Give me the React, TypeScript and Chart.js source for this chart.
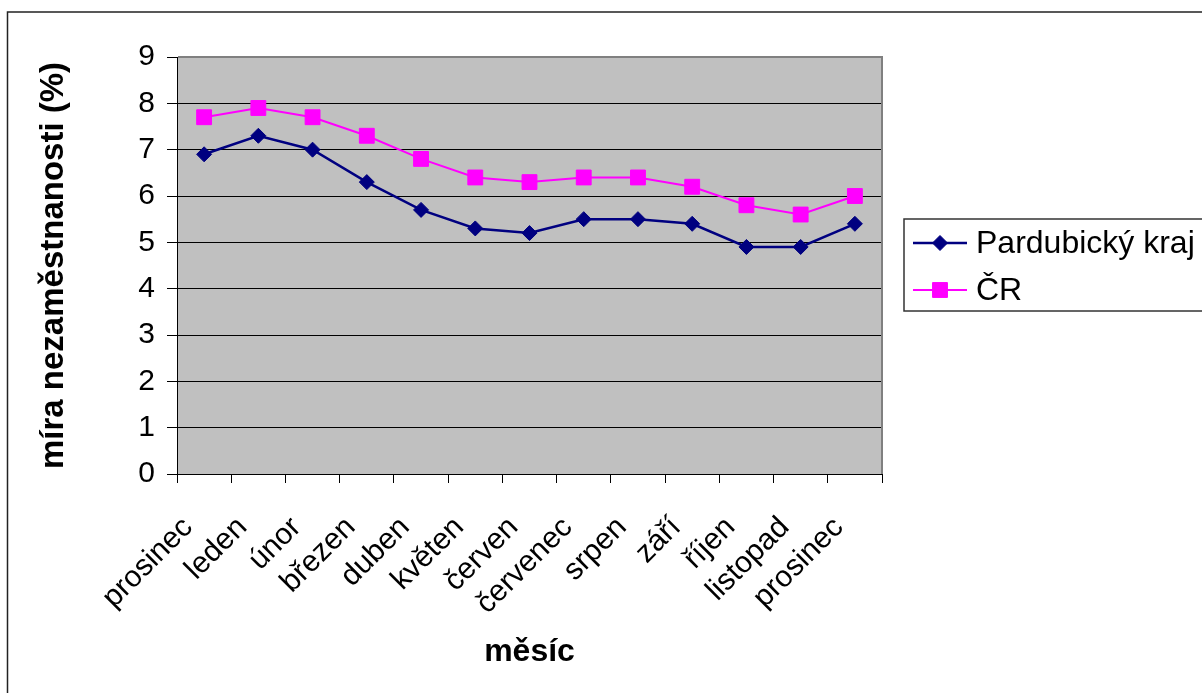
import React, { useEffect, useRef } from 'react';
import { Chart, registerables } from 'chart.js';

Chart.register(...registerables);

const months = ['prosinec', 'leden', 'únor', 'březen', 'duben', 'květen', 'červen', 'červenec', 'srpen', 'září', 'říjen', 'listopad', 'prosinec'];
const pardubickyKraj = [6.9, 7.3, 7.0, 6.3, 5.7, 5.3, 5.2, 5.5, 5.5, 5.4, 4.9, 4.9, 5.4];
const ceskaRepublika = [7.7, 7.9, 7.7, 7.3, 6.8, 6.4, 6.3, 6.4, 6.4, 6.2, 5.8, 5.6, 6.0];
const seriesNames = ['Pardubický kraj', 'ČR'];
const yTitle = 'míra nezaměstnanosti (%)';
const xTitle = 'měsíc';

const FONT = '"Liberation Sans", Arial, sans-serif';

function drawMarker(ctx: CanvasRenderingContext2D, style: string, x: number, y: number, r: number, color: string) {
  ctx.save();
  ctx.fillStyle = color;
  ctx.strokeStyle = color;
  ctx.lineWidth = 1;
  ctx.beginPath();
  if (style === 'rectRot') {
    ctx.moveTo(x, y - r);
    ctx.lineTo(x + r, y);
    ctx.lineTo(x, y + r);
    ctx.lineTo(x - r, y);
  } else {
    const s = r * Math.SQRT1_2;
    ctx.rect(x - s, y - s, 2 * s, 2 * s);
  }
  ctx.closePath();
  ctx.fill();
  ctx.stroke();
  ctx.restore();
}

const framePlugin = {
  id: 'frame',
  beforeDraw(chart: any) {
    const { ctx, chartArea } = chart;
    ctx.save();
    ctx.fillStyle = '#ffffff';
    ctx.fillRect(0, 0, chart.width, chart.height);
    ctx.strokeStyle = '#222222';
    ctx.lineWidth = 1.5;
    ctx.strokeRect(7.5, 12, 1300, 800);
    ctx.fillStyle = '#C0C0C0';
    ctx.fillRect(chartArea.left, chartArea.top, chartArea.right - chartArea.left, chartArea.bottom - chartArea.top);
    ctx.restore();
  },
  afterDraw(chart: any) {
    const { ctx, chartArea } = chart;
    ctx.save();
    ctx.strokeStyle = '#808080';
    ctx.lineWidth = 2;
    ctx.beginPath();
    ctx.moveTo(chartArea.left + 1, chartArea.top);
    ctx.lineTo(chartArea.right, chartArea.top);
    ctx.lineTo(chartArea.right, chartArea.bottom);
    ctx.stroke();

    // legend
    const boxX = 904;
    const boxY = 219;
    const boxH = 92;
    ctx.fillStyle = '#ffffff';
    ctx.fillRect(boxX, boxY, 400, boxH);
    ctx.strokeStyle = '#333333';
    ctx.lineWidth = 1.5;
    ctx.strokeRect(boxX, boxY, 400, boxH);
    chart.data.datasets.forEach((ds: any, i: number) => {
      const y = 243 + i * 47;
      ctx.strokeStyle = ds.borderColor;
      ctx.lineWidth = ds.borderWidth;
      ctx.beginPath();
      ctx.moveTo(913, y);
      ctx.lineTo(967, y);
      ctx.stroke();
      drawMarker(ctx, ds.pointStyle, 940, y, ds.pointRadius, ds.pointBackgroundColor);
      ctx.fillStyle = '#000000';
      ctx.font = `32px ${FONT}`;
      ctx.textAlign = 'left';
      ctx.textBaseline = 'middle';
      ctx.fillText(ds.label, 976, y + 1);
    });
    ctx.restore();
  },
};

export default function App() {
  const ref = useRef<HTMLCanvasElement | null>(null);

  useEffect(() => {
    if (!ref.current) return;
    Chart.defaults.font.family = FONT;
    const chart = new Chart(ref.current, {
      type: 'line',
      data: {
        labels: months,
        datasets: [
          {
            label: seriesNames[0],
            data: pardubickyKraj,
            borderColor: '#000080',
            backgroundColor: '#000080',
            pointBackgroundColor: '#000080',
            pointBorderColor: '#000080',
            borderWidth: 2.5,
            pointStyle: 'rectRot',
            pointRadius: 7.5,
            pointBorderWidth: 1,
            tension: 0,
          },
          {
            label: seriesNames[1],
            data: ceskaRepublika,
            borderColor: '#FF00FF',
            backgroundColor: '#FF00FF',
            pointBackgroundColor: '#FF00FF',
            pointBorderColor: '#FF00FF',
            borderWidth: 2,
            pointStyle: 'rect',
            pointRadius: 10.5,
            pointBorderWidth: 1,
            tension: 0,
          },
        ],
      },
      options: {
        responsive: false,
        animation: false,
        devicePixelRatio: 1,
        layout: { padding: { left: 0, top: 57, right: 320, bottom: 0 } },
        plugins: {
          legend: { display: false },
          tooltip: { enabled: false },
        },
        scales: {
          x: {
            offset: true,
            grid: {
              display: true,
              drawOnChartArea: false,
              drawTicks: true,
              tickLength: 9,
              offset: true,
              color: '#000000',
            },
            border: { display: true, color: '#000000', width: 1 },
            ticks: {
              autoSkip: false,
              maxRotation: 45,
              minRotation: 45,
              color: '#000000',
              font: { size: 30, family: FONT },
              padding: 27,
              labelOffset: -16,
            },
            title: {
              display: true,
              text: xTitle,
              color: '#000000',
              font: { size: 32, weight: 'bold', family: FONT },
              padding: { top: 0, bottom: 22 },
            },
            afterFit: (scale: any) => {
              scale.height = 219;
            },
          },
          y: {
            min: 0,
            max: 9,
            ticks: {
              stepSize: 1,
              color: '#000000',
              font: { size: 30, family: FONT },
              padding: 12,
            },
            grid: {
              color: '#000000',
              lineWidth: 1,
              drawTicks: true,
              tickLength: 10,
            },
            border: { display: true, color: '#000000', width: 1 },
            title: {
              display: true,
              text: yTitle,
              color: '#000000',
              font: { size: 33, weight: 'bold', family: FONT },
              padding: { top: 34, bottom: 0 },
            },
            afterFit: (scale: any) => {
              scale.width = 177;
            },
          },
        },
      },
      plugins: [framePlugin],
    });
    return () => chart.destroy();
  }, []);

  return (
    <canvas
      ref={ref}
      width={1202}
      height={693}
      style={{ position: 'fixed', left: 0, top: 0, width: 1202, height: 693, display: 'block' }}
    />
  );
}
